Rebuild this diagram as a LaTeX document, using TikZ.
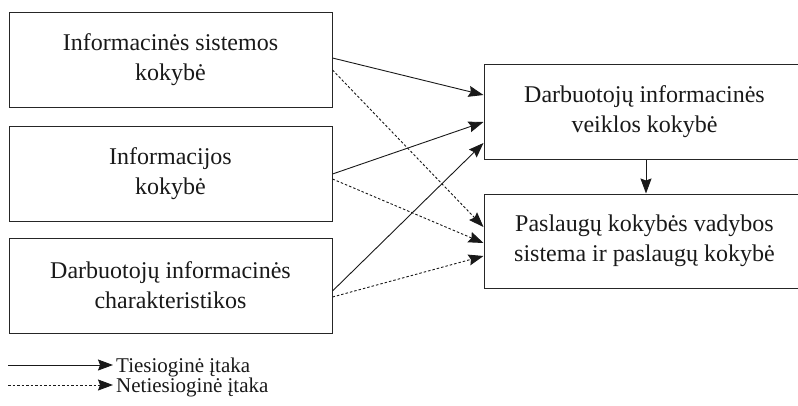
\documentclass[tikz,border=0pt]{standalone}
\usepackage{fontspec}
\setmainfont{Liberation Serif}
\usetikzlibrary{arrows.meta,calc}
\begin{document}
\begin{tikzpicture}[x=1pt,y=-1pt,
  box/.style={draw=black!85,line width=1pt,align=center,inner sep=0pt,
    font=\fontsize{24}{30}\selectfont,text=black!90},
  lbox/.style={box,minimum width=323pt,minimum height=95pt},
  rbox/.style={box,minimum width=321pt,minimum height=95pt},
  conn/.style={line width=0.9pt,draw=black!90,-{Stealth[length=15pt,width=11pt,inset=2pt]}},
  dconn/.style={conn,dash pattern=on 2.5pt off 2pt},
  legtext/.style={anchor=base west,inner sep=0pt,font=\fontsize{21}{24}\selectfont,text=black!90}]
\useasboundingbox (0,0) rectangle (798,405);
\node[lbox] (b1) at (170.5,59.5) {Informacinės sistemos\\kokybė};
\node[lbox] (b2) at (170.5,173.5) {Informacijos\\kokybė};
\node[lbox] (b3) at (170.5,285.5) {Darbuotojų informacinės\\charakteristikos};
\node[rbox] (A) at (644.5,111.5) {Darbuotojų informacinės\\veiklos kokybė};
\node[rbox,minimum height=94pt] (B) at (644.5,241) {Paslaugų kokybės vadybos\\sistema ir paslaugų kokybė};
% connectors
\draw[conn] ($(b1.east)+(0,-1.5)$) -- ($(A.west)+(0,-16.5)$);
\draw[dconn] ($(b1.east)+(0,10.5)$) -- ($(B.west)+(0,-14)$);
\draw[conn] ($(b2.east)+(0,0.5)$) -- ($(A.west)+(0,10.5)$);
\draw[dconn] ($(b2.east)+(0,5.5)$) -- ($(B.west)+(0,2)$);
\draw[conn] ($(b3.east)+(0,5.5)$) -- ($(A.west)+(0,31.5)$);
\draw[dconn] ($(b3.east)+(0,11.5)$) -- ($(B.west)+(0,15)$);
\draw[conn] ($(A.south)+(1.5,0)$) -- ($(B.north)+(1.5,0)$);
% legend
\node[legtext] (l1) at (116,372) {Tiesioginė įtaka};
\node[legtext] (l2) at (116,392) {Netiesioginė įtaka};
\coordinate (s1) at (8,365);
\coordinate (s2) at (8,385);
\draw[conn] (s1) -- ($(l1.base west)+(-3,-7)$);
\draw[dconn] (s2) -- ($(l2.base west)+(-3,-7)$);
\end{tikzpicture}
\end{document}
